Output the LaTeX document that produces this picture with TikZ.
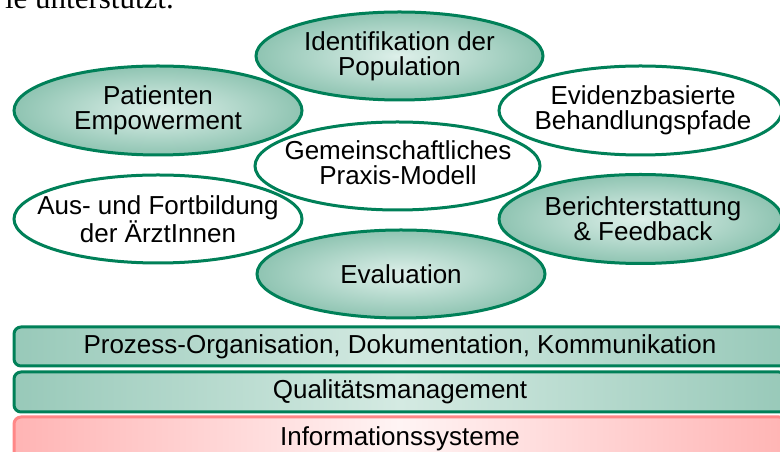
\documentclass[tikz,border=0pt]{standalone}
\usepackage{fontspec}
\setmainfont{Liberation Sans}
\newfontfamily\serifface{Liberation Serif}
\usetikzlibrary{shapes.geometric}
\definecolor{gline}{RGB}{0,128,88}
\definecolor{gouter}{RGB}{143,196,178}
\definecolor{ginner}{RGB}{222,240,234}
\definecolor{bedge}{RGB}{152,201,185}
\definecolor{bmid}{RGB}{212,234,226}
\definecolor{rline}{RGB}{255,135,135}
\definecolor{redge}{RGB}{255,180,180}
\definecolor{rmid}{RGB}{255,244,244}
\tikzset{
  ell/.style={ellipse, draw=gline, line width=3pt, inner sep=0pt, minimum width=288pt, minimum height=88pt},
  gell/.style={ell, inner color=ginner, outer color=gouter},
  well/.style={ell, fill=white},
  txt/.style={align=center, inner sep=0pt, font=\fontsize{26}{25}\selectfont},
  bar/.style={rectangle, rounded corners=7pt, line width=3pt, minimum width=772pt, inner sep=0pt, font=\fontsize{26}{25}\selectfont},
  gbar/.style={bar, draw=gline, left color=bedge, right color=bedge, middle color=bmid},
  rbar/.style={bar, draw=rline, left color=redge, right color=redge, middle color=rmid},
}
\begin{document}
\begin{tikzpicture}[x=1pt,y=1pt]
\useasboundingbox (0,0) rectangle (780,452);
\begin{scope}
\clip (0,0) rectangle (780,452);
% top cut-off text
\node[anchor=base east, inner sep=0pt, font=\serifface\fontsize{31}{31}\selectfont] (toptext) at (174,443) {ie unterstützt.};
% ellipses
\node[gell, minimum width=287pt] (ident) at (399.5,396) {};
\node[txt] (ident-t) at (ident.center) {Identifikation der\\Population};
\node[gell, minimum height=89pt] (patient) at (158,341.5) {};
\node[txt] (patient-t) at (patient.center) {Patienten\\Empowerment};
\node[well, minimum width=283pt, minimum height=89pt] (evid) at (640.5,341.5) {};
\node[txt] (evid-t) at (643,341.5) {Evidenzbasierte\\Behandlungspfade};
\node[well, minimum width=285pt] (gemein) at (397.5,286) {};
\node[txt] (gemein-t) at (398,289.5) {Gemeinschaftliches\\Praxis-Modell};
\node[well] (aus) at (158,233) {};
\node[txt] (aus-t) at (aus.center) {Aus- und Fortbildung\\der ÄrztInnen};
\node[gell, minimum width=283pt, minimum height=89pt] (bericht) at (640.5,233) {};
\node[txt] (bericht-t) at (643,233) {Berichterstattung\\\& Feedback};
\node[gell] (eval) at (401,178) {};
\node[txt] (eval-t) at (eval.center) {Evaluation};
% bars
\node[gbar, minimum height=39pt] (bar1) at (400,105.5) {Prozess-Organisation, Dokumentation, Kommunikation};
\node[gbar, minimum height=40pt] (bar2) at (400,60) {Qualitätsmanagement};
\node[rbar, minimum height=44pt] (bar3) at (400,13) {Informationssysteme};
\end{scope}
\end{tikzpicture}
\end{document}
